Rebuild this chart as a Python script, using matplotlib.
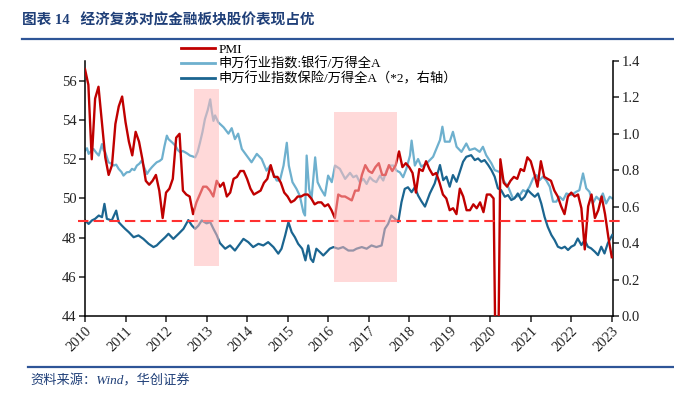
import numpy as np
import matplotlib
matplotlib.use("Agg")
import matplotlib.pyplot as plt
from matplotlib.patches import Rectangle
from matplotlib.lines import Line2D

# 制造业PMI，月末值，2009-12 ~ 2022-12
pmi = [56.6,
       55.8, 52.0, 55.1, 55.7, 53.9, 52.1, 51.2, 51.7, 53.8, 54.7, 55.2, 53.9,
       52.9, 52.2, 53.4, 52.9, 52.0, 50.9, 50.7, 50.9, 51.2, 50.4, 49.0, 50.3,
       50.5, 51.0, 53.1, 53.3, 50.4, 50.2, 50.1, 49.2, 49.8, 50.2, 50.6, 50.6,
       50.4, 50.1, 50.9, 50.6, 50.8, 50.1, 50.3, 51.0, 51.1, 51.4, 51.4, 51.0,
       50.5, 50.2, 50.3, 50.4, 50.8, 51.0, 51.7, 51.1, 51.1, 50.8, 50.3, 50.1,
       49.8, 49.9, 50.1, 50.1, 50.2, 50.2, 50.0, 49.7, 49.8, 49.8, 49.6, 49.7,
       49.4, 49.0, 50.2, 50.1, 50.1, 50.0, 49.9, 50.4, 50.4, 51.2, 51.7, 51.4,
       51.3, 51.6, 51.8, 51.2, 51.2, 51.7, 51.4, 51.7, 52.4, 51.6, 51.8, 51.6,
       51.3, 50.3, 51.5, 51.4, 51.9, 51.5, 51.2, 51.3, 50.8, 50.2, 50.0, 49.4,
       49.5, 49.2, 50.5, 50.1, 49.4, 49.4, 49.7, 49.5, 49.8, 49.3, 50.2, 50.2,
       50.0, 35.7, 52.0, 50.8, 50.6, 50.9, 51.1, 51.0, 51.5, 51.4, 52.1, 51.9,
       51.3, 50.6, 51.9, 51.1, 51.0, 50.9, 50.4, 50.1, 49.6, 49.2, 50.1, 50.3,
       50.1, 50.2, 49.5, 47.4, 49.6, 50.2, 49.0, 49.4, 50.1, 49.2, 48.0, 47.0]
pmi_t = [2010 + i / 12 for i in range(len(pmi))]

# 申万银行/万得全A（右轴）
bank_t = [2010.00, 2010.05, 2010.09, 2010.15, 2010.21, 2010.28, 2010.34, 2010.38, 2010.42, 2010.46,
          2010.50, 2010.58, 2010.65, 2010.71, 2010.77, 2010.83, 2010.90, 2010.95, 2011.03, 2011.10,
          2011.16, 2011.22, 2011.28, 2011.34, 2011.40, 2011.47, 2011.53, 2011.59, 2011.65, 2011.71,
          2011.77, 2011.84, 2011.90, 2011.96, 2012.02, 2012.06, 2012.10, 2012.16, 2012.23, 2012.29,
          2012.35, 2012.41, 2012.47, 2012.53, 2012.59, 2012.66, 2012.72, 2012.78, 2012.84, 2012.90,
          2012.96, 2013.03, 2013.09, 2013.13, 2013.17, 2013.21, 2013.29, 2013.42, 2013.54, 2013.62,
          2013.70, 2013.78, 2013.87, 2013.99, 2014.11, 2014.24, 2014.36, 2014.48, 2014.57, 2014.65,
          2014.73, 2014.81, 2014.90, 2014.98, 2015.03, 2015.12, 2015.22, 2015.30, 2015.39, 2015.43,
          2015.47, 2015.53, 2015.59, 2015.68, 2015.74, 2015.82, 2015.92, 2016.00, 2016.09, 2016.17,
          2016.29, 2016.42, 2016.54, 2016.62, 2016.70, 2016.78, 2016.87, 2016.95, 2017.03, 2017.11,
          2017.19, 2017.28, 2017.36, 2017.44, 2017.52, 2017.61, 2017.69, 2017.77, 2017.85, 2017.93,
          2018.02, 2018.06, 2018.14, 2018.22, 2018.30, 2018.43, 2018.59, 2018.76, 2018.82, 2018.88,
          2019.00, 2019.08, 2019.17, 2019.29, 2019.41, 2019.49, 2019.62, 2019.74, 2019.82, 2019.90,
          2020.03, 2020.11, 2020.23, 2020.32, 2020.44, 2020.56, 2020.64, 2020.73, 2020.81, 2020.89,
          2020.97, 2021.06, 2021.14, 2021.22, 2021.30, 2021.38, 2021.47, 2021.55, 2021.63, 2021.71,
          2021.80, 2021.88, 2022.00, 2022.12, 2022.20, 2022.29, 2022.37, 2022.45, 2022.53, 2022.62,
          2022.70, 2022.78, 2022.86, 2022.95, 2023.01]
bank = [0.907, 0.920, 0.889, 0.905, 0.916, 0.895, 0.880, 0.910, 0.943, 0.910,
        0.898, 0.843, 0.835, 0.825, 0.830, 0.807, 0.790, 0.770, 0.788, 0.790,
        0.807, 0.800, 0.825, 0.835, 0.852, 0.810, 0.779, 0.800, 0.816, 0.830,
        0.843, 0.850, 0.861, 0.930, 0.989, 0.970, 0.962, 0.950, 0.934, 0.910,
        0.898, 0.905, 0.898, 0.890, 0.880, 0.875, 0.870, 0.900, 0.953, 1.010,
        1.080, 1.130, 1.188, 1.120, 1.070, 1.100, 1.062, 1.035, 1.000, 1.030,
        0.970, 1.000, 0.916, 0.880, 0.843, 0.889, 0.861, 0.797, 0.825, 0.779,
        0.743, 0.743, 0.825, 0.950, 0.825, 0.734, 0.697, 0.660, 0.569, 0.551,
        0.880, 0.697, 0.642, 0.870, 0.734, 0.697, 0.660, 0.770, 0.734, 0.825,
        0.807, 0.752, 0.785, 0.761, 0.770, 0.734, 0.752, 0.724, 0.761, 0.743,
        0.734, 0.770, 0.743, 0.797, 0.825, 0.825, 0.797, 0.788, 0.761, 0.807,
        0.880, 0.962, 0.825, 0.861, 0.819, 0.837, 0.873, 0.965, 1.038, 0.956,
        0.956, 1.010, 0.928, 0.900, 0.946, 0.910, 0.919, 0.900, 0.928, 0.882,
        0.837, 0.800, 0.790, 0.745, 0.709, 0.645, 0.654, 0.663, 0.690, 0.681,
        0.709, 0.755, 0.773, 0.745, 0.764, 0.745, 0.709, 0.627, 0.627, 0.654,
        0.636, 0.672, 0.663, 0.681, 0.690, 0.782, 0.700, 0.681, 0.617, 0.654,
        0.636, 0.672, 0.617, 0.654, 0.645]

# 申万保险/万得全A *2（右轴）
ins_t = [2010.00, 2010.09, 2010.17, 2010.25, 2010.34, 2010.42, 2010.48, 2010.54, 2010.66, 2010.77,
         2010.83, 2010.91, 2010.99, 2011.08, 2011.20, 2011.32, 2011.44, 2011.57, 2011.69, 2011.77,
         2011.85, 2011.98, 2012.06, 2012.18, 2012.31, 2012.43, 2012.55, 2012.64, 2012.72, 2012.80,
         2012.88, 2013.00, 2013.09, 2013.17, 2013.25, 2013.33, 2013.46, 2013.58, 2013.70, 2013.82,
         2013.91, 2014.03, 2014.15, 2014.28, 2014.40, 2014.52, 2014.65, 2014.77, 2014.85, 2014.94,
         2015.02, 2015.10, 2015.18, 2015.26, 2015.36, 2015.44, 2015.51, 2015.57, 2015.63, 2015.71,
         2015.80, 2015.88, 2015.96, 2016.04, 2016.13, 2016.25, 2016.37, 2016.50, 2016.62, 2016.70,
         2016.83, 2016.95, 2017.07, 2017.19, 2017.32, 2017.40, 2017.48, 2017.56, 2017.65, 2017.73,
         2017.81, 2017.89, 2017.97, 2018.06, 2018.14, 2018.22, 2018.30, 2018.39, 2018.51, 2018.63,
         2018.76, 2018.84, 2018.92, 2019.00, 2019.08, 2019.17, 2019.25, 2019.33, 2019.41, 2019.53,
         2019.62, 2019.70, 2019.78, 2019.86, 2019.95, 2020.03, 2020.11, 2020.19, 2020.27, 2020.36,
         2020.44, 2020.52, 2020.60, 2020.68, 2020.77, 2020.85, 2020.93, 2021.01, 2021.10, 2021.18,
         2021.26, 2021.34, 2021.42, 2021.51, 2021.59, 2021.67, 2021.76, 2021.84, 2021.92, 2022.00,
         2022.08, 2022.16, 2022.25, 2022.33, 2022.41, 2022.49, 2022.58, 2022.66, 2022.74, 2022.82,
         2022.90, 2023.01]
ins = [0.524, 0.505, 0.524, 0.533, 0.551, 0.542, 0.615, 0.533, 0.524, 0.578,
       0.515, 0.496, 0.478, 0.460, 0.432, 0.442, 0.423, 0.396, 0.378, 0.387,
       0.405, 0.432, 0.451, 0.423, 0.451, 0.478, 0.526, 0.496, 0.478, 0.496,
       0.524, 0.508, 0.515, 0.478, 0.444, 0.400, 0.369, 0.387, 0.359, 0.396,
       0.423, 0.405, 0.378, 0.396, 0.387, 0.405, 0.378, 0.342, 0.369, 0.442,
       0.515, 0.460, 0.432, 0.396, 0.369, 0.305, 0.387, 0.314, 0.296, 0.369,
       0.350, 0.332, 0.350, 0.369, 0.378, 0.369, 0.378, 0.359, 0.359, 0.369,
       0.378, 0.369, 0.387, 0.378, 0.387, 0.478, 0.505, 0.551, 0.533, 0.515,
       0.624, 0.697, 0.706, 0.679, 0.706, 0.661, 0.630, 0.600, 0.672, 0.727,
       0.828, 0.745, 0.764, 0.709, 0.773, 0.736, 0.791, 0.846, 0.873, 0.882,
       0.855, 0.864, 0.846, 0.855, 0.828, 0.800, 0.764, 0.700, 0.690, 0.654,
       0.663, 0.636, 0.645, 0.672, 0.636, 0.654, 0.690, 0.672, 0.654, 0.672,
       0.617, 0.544, 0.489, 0.444, 0.416, 0.380, 0.371, 0.380, 0.362, 0.380,
       0.389, 0.425, 0.389, 0.416, 0.380, 0.371, 0.353, 0.334, 0.380, 0.343,
       0.398, 0.444]

pmi_ref = 48.83          # 红色虚线
# 阴影区间: (起, 止, 下沿, 上沿)
shade_periods = [(2012.69, 2013.31, 46.53, 55.58),
                 (2016.14, 2017.70, 45.73, 54.42)]
years = list(range(2010, 2024))

RED = "#C00000"
LIGHT = "#6EB0CE"
DARK = "#1B6590"
NAVY = "#1F3F78"
FONT = ["Liberation Serif", "Noto Sans CJK SC"]

plt.rcParams["font.family"] = FONT
fig = plt.figure(figsize=(6.74, 3.96), dpi=100)
ax = fig.add_axes([0.1261, 0.202, 0.7834, 0.6447])
ax2 = ax.twinx()
ax.set_zorder(ax2.get_zorder() + 1)
ax.patch.set_visible(False)

ax2.plot(bank_t, bank, color=LIGHT, lw=1.6, zorder=2)
ax2.plot(ins_t, ins, color=DARK, lw=1.6, zorder=3)
ax.plot(pmi_t, pmi, color=RED, lw=1.7, zorder=3)
ax.axhline(pmi_ref, xmin=-0.013, xmax=1.021, color="#FF3030", lw=1.5,
           dashes=(5, 2.5), clip_on=False, zorder=4)
for x0, x1, y0, y1 in shade_periods:
    ax.add_patch(Rectangle((x0, y0), x1 - x0, y1 - y0, facecolor="#FFBABA",
                           alpha=0.55, edgecolor="none", zorder=5))

ax.set_xlim(2010, 2023.03)
ax.set_ylim(44, 57.03)
ax2.set_ylim(0, 1.4)
ax.set_xticks(years)
ax.set_xticklabels([str(y) for y in years], rotation=45, ha="right",
                   va="top", rotation_mode="anchor")
ax.set_yticks(range(44, 57, 2))
ax2.set_yticks(np.arange(0, 1.41, 0.2))
ax2.set_yticklabels([f"{v:.1f}" for v in np.arange(0, 1.41, 0.2)])

for a in (ax, ax2):
    a.spines["top"].set_visible(False)
    for s in a.spines.values():
        s.set_linewidth(1.1)
    a.tick_params(direction="out", length=4, width=1.1, labelsize=10.5,
                  colors="#222222", pad=2)
ax.spines["right"].set_visible(False)
ax2.spines["left"].set_visible(False)
ax2.spines["bottom"].set_visible(False)

handles = [Line2D([], [], color=RED, lw=2),
           Line2D([], [], color=LIGHT, lw=2),
           Line2D([], [], color=DARK, lw=2)]
labels = ["PMI", "申万行业指数:银行/万得全A", "申万行业指数保险/万得全A（*2，右轴）"]
fig.legend(handles, labels, loc="upper left", bbox_to_anchor=(0.268, 0.89),
           frameon=False, fontsize=9.5, handlelength=2.6, handletextpad=0.3,
           labelspacing=0.12, borderaxespad=0, borderpad=0)

fig.text(0.033, 0.948, "图表 14   经济复苏对应金融板块股价表现占优", fontsize=10.5,
         fontweight="bold", color=NAVY, va="center")
fig.add_artist(Line2D([0.033, 1.0], [0.902, 0.902], color="#2E5597", lw=1.6))
fig.add_artist(Line2D([0.042, 1.0], [0.073, 0.073], color="#2E5597", lw=1.6))
fig.text(0.045, 0.038, "资料来源：Wind，华创证券", fontsize=9.5, style="italic",
         color=NAVY, va="center")

fig.savefig("out.png", dpi=100)
